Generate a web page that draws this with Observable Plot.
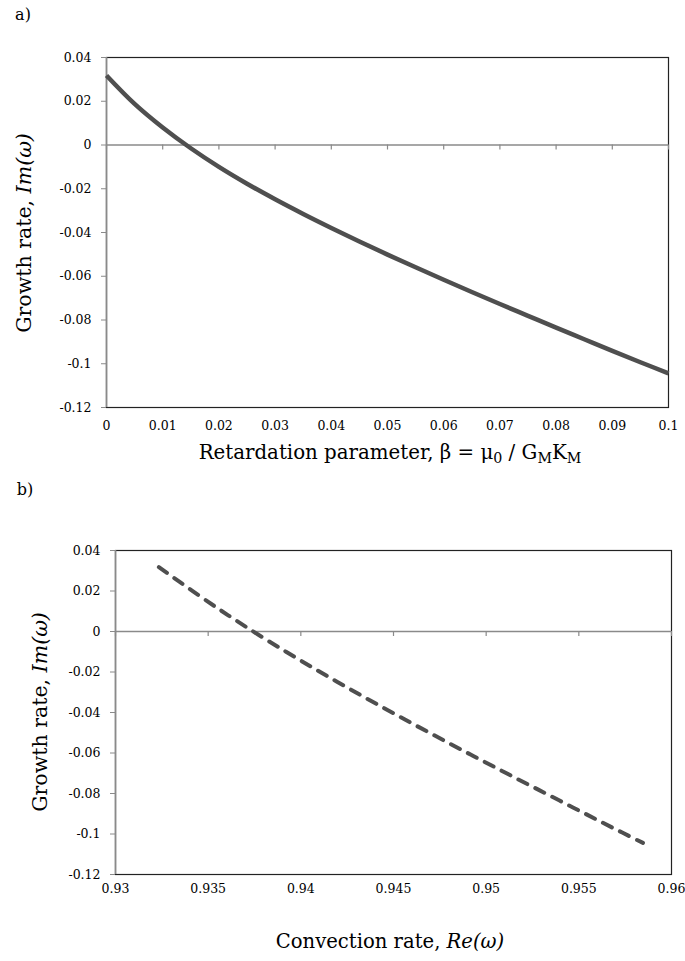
<!DOCTYPE html>
<html><head><meta charset="utf-8">
<script src="https://cdn.jsdelivr.net/npm/d3@7"></script>
<script src="https://cdn.jsdelivr.net/npm/@observablehq/plot@0.6"></script>
<style>
body{margin:0;background:#fff;}
#wrap{position:relative;width:685px;height:961px;font-family:"DejaVu Serif",serif;color:#000;overflow:hidden;}
#wrap svg{position:absolute;left:0;}
.lbl{position:absolute;white-space:nowrap;transform:translate(-50%,-50%);line-height:1;}
.ylab{position:absolute;white-space:nowrap;transform:translate(-50%,-50%) rotate(-90deg);line-height:1;}
sub{font-size:0.72em;vertical-align:-0.3em;line-height:0;}
</style></head><body>
<div id="wrap"></div>
<script>
// Retardation parameter beta
const beta = [0,0.005,0.01,0.015,0.02,0.025,0.03,0.035,0.04,0.045,0.05,0.055,0.06,0.065,0.07,0.075,0.08,0.085,0.09,0.095,0.1];
// Growth rate Im(omega)
const growthRate = [0.0318,0.0188,0.0080,-0.0015,-0.0100,-0.0177,-0.0248,-0.0315,-0.0379,-0.0441,-0.0501,-0.0559,-0.0616,-0.0672,-0.0727,-0.0781,-0.0835,-0.0888,-0.0941,-0.0993,-0.1044];
// Convection rate Re(omega)
const convectionRate = [0.93234,0.93434,0.93608,0.93769,0.93920,0.94061,0.94195,0.94324,0.94450,0.94574,0.94696,0.94815,0.94933,0.95051,0.95166,0.95281,0.95396,0.95509,0.95622,0.95734,0.95846];
const xTicksA = [0,0.01,0.02,0.03,0.04,0.05,0.06,0.07,0.08,0.09,0.1];
const xTicksB = [0.93,0.935,0.94,0.945,0.95,0.955,0.96];
const yTicks = [0.04,0.02,0,-0.02,-0.04,-0.06,-0.08,-0.1,-0.12];

const rows = beta.map((b,i)=>({beta:b, im:growthRate[i], re:convectionRate[i]}));
const axisGray = "#8a8a8a";
const lineColor = "#4f4f4f";
const fmt = d => String(d);

function panel({xDomain, xTicks, xKey, dashed, marginLeft, marginRight, marginTop, marginBottom, height, tickPad}) {
  return Plot.plot({
    width: 685, height, marginLeft, marginRight, marginTop, marginBottom,
    style: {fontFamily: "'DejaVu Serif', serif", fontSize: "12.5px", color: "#000", background: "transparent", overflow: "visible"},
    x: {domain: xDomain},
    y: {domain: [-0.12, 0.04]},
    marks: [
      Plot.frame({stroke: "#222", strokeWidth: 1.2}),
      Plot.ruleY([0], {stroke: axisGray, strokeWidth: 1.3}),
      Plot.ruleX(xTicks, {x: d => d, y1: 0, y2: 0, insetBottom: -5, stroke: axisGray, strokeWidth: 1.2}),
      Plot.ruleX([xDomain[0]], {stroke: axisGray, strokeWidth: 1.6}),
      Plot.axisY(yTicks, {tickSize: 5, tickPadding: 10, stroke: axisGray, fill: "#000", tickFormat: fmt, label: null}),
      Plot.axisX(xTicks, {tickSize: 0, tickPadding: tickPad, fill: "#000", tickFormat: fmt, label: null}),
      Plot.line(rows, {x: xKey, y: "im", stroke: lineColor, strokeWidth: dashed ? 4 : 4.5, curve: "catmull-rom",
        strokeDasharray: dashed ? "10,9" : null, strokeLinecap: dashed ? "round" : "butt"})
    ]
  });
}

const wrap = document.getElementById("wrap");
const a = panel({xDomain: [0, 0.1], xTicks: xTicksA, xKey: "beta", dashed: false,
  marginLeft: 106, marginRight: 17, marginTop: 57, marginBottom: 33, height: 440, tickPad: 14});
a.style.top = "0px";
wrap.appendChild(a);
const b = panel({xDomain: [0.93, 0.96], xTicks: xTicksB, xKey: "re", dashed: true,
  marginLeft: 115, marginRight: 14, marginTop: 70, marginBottom: 30, height: 424, tickPad: 10});
b.style.top = "480px";
wrap.appendChild(b);

function label(html, cls, x, y, size) {
  const d = document.createElement("div");
  d.className = cls;
  d.innerHTML = html;
  d.style.left = x + "px";
  d.style.top = y + "px";
  d.style.fontSize = size + "px";
  wrap.appendChild(d);
}
label("a)", "lbl", 23, 15, 16);
label("b)", "lbl", 25, 490, 16);
label("Growth rate, <i>Im(ω)</i>", "ylab", 24, 233, 20.5);
label("Growth rate, <i>Im(ω)</i>", "ylab", 40, 712, 20.5);
label("Retardation parameter, β = μ<sub>0</sub> / G<sub>M</sub>K<sub>M</sub>", "lbl", 390, 453, 19.8);
label("Convection rate, <i>Re(ω)</i>", "lbl", 390, 942, 19.6);
</script>
</body></html>
